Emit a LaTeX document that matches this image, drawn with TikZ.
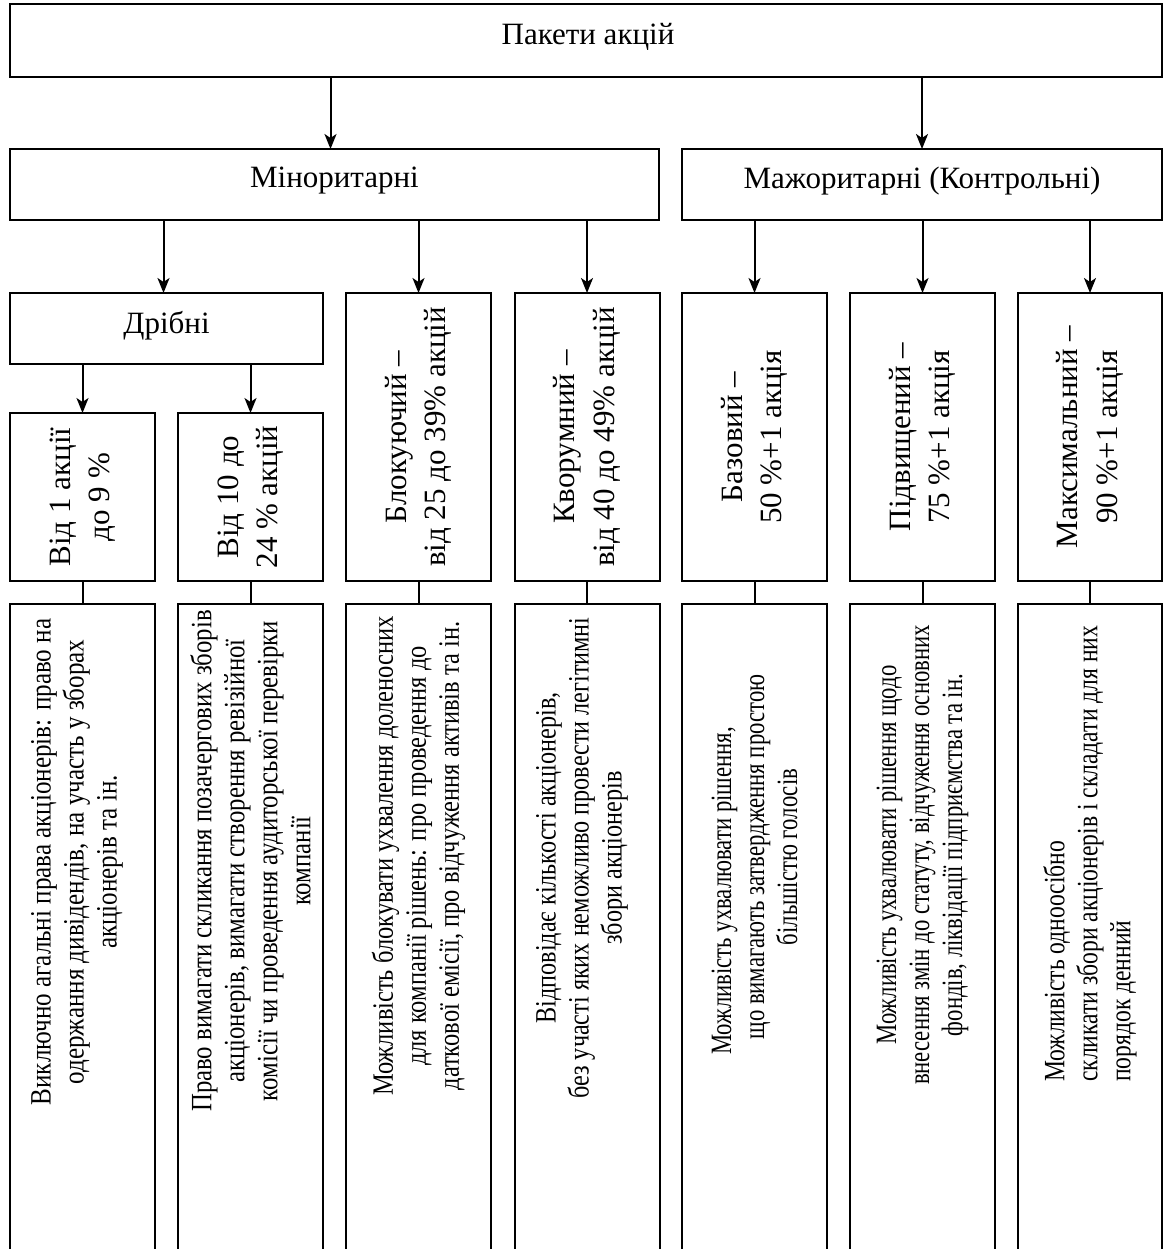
\documentclass[tikz,border=0pt]{standalone}
\usepackage{fontspec}
\setmainfont{Liberation Serif}
% narrowed faces for the long description columns
\newfontfamily\narrowA[FakeStretch=0.85]{Liberation Serif}
\newfontfamily\narrowB[FakeStretch=0.84]{Liberation Serif}
\newfontfamily\narrowC[FakeStretch=0.83]{Liberation Serif}
\newfontfamily\narrowD[FakeStretch=0.82]{Liberation Serif}
\newfontfamily\narrowE[FakeStretch=0.77]{Liberation Serif}
\newfontfamily\narrowF[FakeStretch=0.77]{Liberation Serif}
\newfontfamily\narrowG[FakeStretch=0.80]{Liberation Serif}
\usetikzlibrary{arrows.meta}

\tikzset{
  box/.style={draw, line width=2pt, rectangle, inner sep=0pt, outer sep=0pt},
  arr/.style={line width=2pt, -{Stealth[length=15pt, width=12pt, inset=4pt]}},
  link/.style={line width=2pt},
  htext/.style={inner sep=0pt, anchor=base, font=\fontsize{31}{39.5}\selectfont},
  vtext/.style={inner sep=0pt, rotate=90, align=center, font=\fontsize{31}{39.5}\selectfont},
  ltext/.style={inner sep=0pt, rotate=90, align=center, font=#1\fontsize{29.5}{33}\selectfont},
}

\begin{document}
\begin{tikzpicture}[x=1pt, y=-1pt]
\useasboundingbox (0,0) rectangle (1163,1249);
\clip (0,0) rectangle (1163,1249);
\fill[white] (0,0) rectangle (1163,1249);

% level 1
\node[box, minimum width=1152pt, minimum height=73pt] (top) at (586,40.5) {};
\node[htext] (topt) at (588,45) {Пакети акцій};

% level 2
\node[box, minimum width=649pt, minimum height=71pt] (min) at (334.5,184.5) {};
\node[htext] (mint) at (334.5,188) {Міноритарні};
\node[box, minimum width=480pt, minimum height=71pt] (maj) at (922,184.5) {};
\node[htext] (majt) at (922,189) {Мажоритарні (Контрольні)};

% level 3
\node[box, minimum width=313pt, minimum height=71pt] (dr) at (166.5,328.5) {};
\node[htext] (drt) at (166.5,333) {Дрібні};

\node[box, minimum width=145pt, minimum height=288pt] (b3) at (418.5,437) {};
\node[vtext] (b3t) at (b3.center) {Блокуючий –\\від 25 до 39\% акцій};
\node[box, minimum width=145pt, minimum height=288pt] (b4) at (587,437) {};
\node[vtext] (b4t) at (b4.center) {Кворумний –\\від 40 до 49\%  акцій};
\node[box, minimum width=145pt, minimum height=288pt] (b5) at (754.5,437) {};
\node[vtext] (b5t) at (b5.center) {Базовий –\\50 \%+1 акція};
\node[box, minimum width=145pt, minimum height=288pt] (b6) at (922.5,437) {};
\node[vtext] (b6t) at (b6.center) {Підвищений –\\75 \%+1 акція};
\node[box, minimum width=144pt, minimum height=288pt] (b7) at (1090,437) {};
\node[vtext] (b7t) at (b7.center) {Максимальний –\\90 \%+1 акція};

% level 4 under "Дрібні"
\node[box, minimum width=145pt, minimum height=168pt] (s1) at (82.5,497) {};
\node[vtext] (s1t) at (s1.center) {Від 1 акції\\до 9 \%};
\node[box, minimum width=145pt, minimum height=168pt] (s2) at (250.5,497) {};
\node[vtext] (s2t) at (s2.center) {Від 10 до\\24 \% акцій};

% description columns (run past the lower edge)
\node[box, minimum width=145pt, minimum height=676pt] (d1) at (82.5,942) {};
\node[box, minimum width=145pt, minimum height=676pt] (d2) at (250.5,942) {};
\node[box, minimum width=145pt, minimum height=676pt] (d3) at (418.5,942) {};
\node[box, minimum width=145pt, minimum height=676pt] (d4) at (587,942) {};
\node[box, minimum width=145pt, minimum height=676pt] (d5) at (754.5,942) {};
\node[box, minimum width=145pt, minimum height=676pt] (d6) at (922.5,942) {};
\node[box, minimum width=144pt, minimum height=676pt] (d7) at (1090,942) {};

\node[ltext=\narrowA] (d1t) at (77,862) {Виключно агальні права акціонерів: право на\\одержання дивідендів, на участь у зборах\\акціонерів та ін.};
\node[ltext=\narrowB] (d2t) at (250.5,861) {Право вимагати скликання позачергових зборів\\акціонерів, вимагати створення ревізійної\\комісії чи проведення аудиторської перевірки\\компанії};
\node[ltext=\narrowC] (d3t) at (418.5,856) {Можливість блокувати ухвалення доленосних\\для компанії рішень: про проведення до\\даткової емісії, про відчуження активів та ін.};
\node[ltext=\narrowD] (d4t) at (582,858) {Відповідає кількості акціонерів,\\без участі яких неможливо провести легітимні\\збори акціонерів};
\node[ltext=\narrowE] (d5t) at (754.5,857) {Можливість ухвалювати рішення,\hspace*{68pt}\\що вимагають затвердження простою\\більшістю голосів};
\node[ltext=\narrowF] (d6t) at (922.5,855) {Можливість ухвалювати рішення щодо\\внесення змін до статуту, відчуження основних\\фондів, ліквідації підприємства та ін.};
\node[ltext=\narrowG, align=left, anchor=west] (d7t) at (1090,1082) {Можливість одноосібно\\скликати збори акціонерів і складати для них\\порядок денний};

% arrows
\draw[arr] ([xshift=-4pt]top.south -| min.north) -- ([xshift=-4pt]min.north);
\draw[arr] (top.south -| maj.north) -- (maj.north);
\draw[arr] ([xshift=-3pt]min.south -| dr.north) -- ([xshift=-3pt]dr.north);
\draw[arr] (min.south -| b3.north) -- (b3.north);
\draw[arr] (min.south -| b4.north) -- (b4.north);
\draw[arr] (maj.south -| b5.north) -- (b5.north);
\draw[arr] (maj.south -| b6.north) -- (b6.north);
\draw[arr] (maj.south -| b7.north) -- (b7.north);
\draw[arr] (dr.south -| s1.north) -- (s1.north);
\draw[arr] (dr.south -| s2.north) -- (s2.north);

% plain links to the description columns
\draw[link] (s1.south) -- (d1.north);
\draw[link] (s2.south) -- (d2.north);
\draw[link] (b3.south) -- (d3.north);
\draw[link] (b4.south) -- (d4.north);
\draw[link] (b5.south) -- (d5.north);
\draw[link] (b6.south) -- (d6.north);
\draw[link] (b7.south) -- (d7.north);
\end{tikzpicture}
\end{document}
